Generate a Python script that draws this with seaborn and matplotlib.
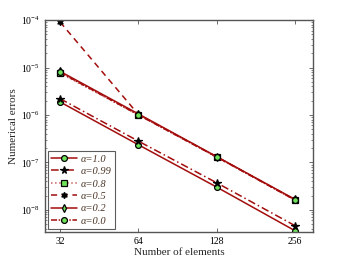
import numpy as np
import pandas as pd
import seaborn as sns
import matplotlib.pyplot as plt
from matplotlib.ticker import FixedLocator, NullFormatter

# x values (number of elements)
elements = [32, 64, 128, 256]
xtick_labels = ["32", "64", "128", "256"]

# numerical errors for each alpha
err_a10 = [1.88e-6, 2.35e-7, 3.0e-8, 3.6e-9]
err_a099 = [2.2e-6, 2.8e-7, 3.7e-8, 4.6e-9]
err_a08 = [7.6e-6, 1.0e-6, 1.28e-7, 1.6e-8]
err_a05 = [9.1e-5, 1.02e-6, 1.3e-7, 1.62e-8]
err_a02 = [8.3e-6, 1.05e-6, 1.32e-7, 1.65e-8]
err_a00 = [7.9e-6, 1.0e-6, 1.3e-7, 1.6e-8]

labels = ["α=1.0", "α=0.99", "α=0.8", "α=0.5", "α=0.2", "α=0.0"]
series = [err_a10, err_a099, err_a08, err_a05, err_a02, err_a00]

sns.set_style("ticks")
plt.rcParams["font.family"] = ["Liberation Serif", "DejaVu Serif"]
plt.rcParams["mathtext.fontset"] = "stix"

RED = "#a30d0d"
GREEN = "#6ee35a"

styles = [
    dict(ls="-", marker="o", mfc=GREEN, color=RED, ms=4.2),
    dict(ls=(0, (5, 2, 1, 2)), marker="*", mfc="black", color=RED, ms=5.5),
    dict(ls=":", marker="s", mfc=GREEN, color="#d06060", ms=3.8),
    dict(ls=(0, (4, 3)), marker=(6, 1, 0), mfc="black", color=RED, ms=4.5),
    dict(ls="-", marker="d", mfc=GREEN, color=RED, ms=4.2),
    dict(ls=(0, (4, 1, 1, 1)), marker="o", mfc=GREEN, color=RED, ms=4.2),
]

fig = plt.figure(figsize=(3.46, 2.61), dpi=100)
ax = fig.add_axes([0.13, 0.111, 0.775, 0.812])

for lab, vals, st in zip(labels, series, styles):
    df = pd.DataFrame({"elements": elements, "error": vals})
    sns.lineplot(data=df, x="elements", y="error", ax=ax, label=lab,
                 color=st["color"], linestyle=st["ls"], marker=st["marker"],
                 markerfacecolor=st["mfc"], markeredgecolor="black",
                 markeredgewidth=0.9, markersize=st["ms"], linewidth=1.1)

ax.set_xscale("log", base=2)
ax.set_yscale("log")
ax.set_xlim(28, 300)
ax.set_ylim(3.4e-9, 1e-4)
ax.xaxis.set_major_locator(FixedLocator(elements))
ax.set_xticklabels(xtick_labels)
ax.xaxis.set_minor_formatter(NullFormatter())
ax.minorticks_on()
ax.xaxis.set_minor_locator(FixedLocator([]))

ax.tick_params(which="both", direction="in", top=True, right=True,
               labelsize=7, colors="#555555", labelcolor="black")
ax.tick_params(which="major", length=3, width=0.6)
ax.tick_params(which="minor", length=1.5, width=0.5)
for sp in ax.spines.values():
    sp.set_color("#555555")
    sp.set_linewidth(1.0)

ax.set_xlabel("Number of elements", fontsize=8, labelpad=1.5)
ax.set_ylabel("Numerical errors", fontsize=8, labelpad=2)

leg = ax.legend(loc="lower left", frameon=True, fancybox=False,
                edgecolor="#333333", handlelength=2.5, borderpad=0.3,
                labelspacing=0.3, handletextpad=0.35, borderaxespad=0.3,
                prop={"style": "italic", "size": 7.5})
leg.get_frame().set_linewidth(0.8)
for t in leg.get_texts():
    t.set_color("#4a3426")

fig.savefig("out.png", dpi=100)
